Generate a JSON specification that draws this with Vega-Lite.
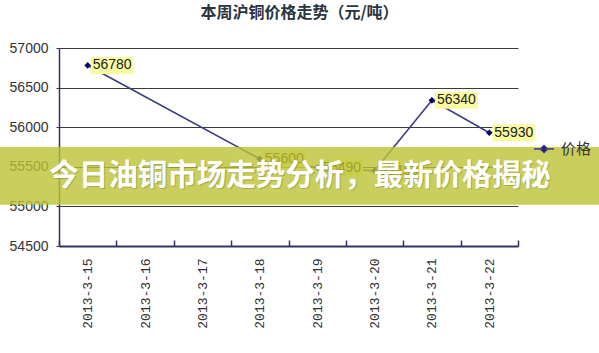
{
  "$schema": "https://vega.github.io/schema/vega-lite/v6.json",
  "width": 459,
  "height": 198,
  "autosize": {"type": "none"},
  "padding": {"left": 59, "top": 48, "right": 81, "bottom": 107},
  "background": "#ffffff",
  "config": {"view": {"stroke": null}},
  "title": {
    "text": "本周沪铜价格走势（元/吨）",
    "font": "Noto Sans CJK SC",
    "fontSize": 16,
    "fontWeight": "bold",
    "color": "#2a3440",
    "anchor": "middle",
    "frame": "group",
    "dx": 11,
    "offset": 20
  },
  "datasets": {
    "prices": [
      {"date": "2013-3-15", "price": 56780},
      {"date": "2013-3-18", "price": 55600},
      {"date": "2013-3-19", "price": 55490},
      {"date": "2013-3-20", "price": 55450},
      {"date": "2013-3-21", "price": 56340},
      {"date": "2013-3-22", "price": 55930}
    ],
    "banner": [{"text": "今日油铜市场走势分析，最新价格揭秘"}]
  },
  "layer": [
    {
      "data": {"name": "prices"},
      "encoding": {
        "x": {
          "field": "date",
          "type": "ordinal",
          "sort": null,
          "scale": {
            "type": "band",
            "domain": ["2013-3-15", "2013-3-16", "2013-3-17", "2013-3-18", "2013-3-19", "2013-3-20", "2013-3-21", "2013-3-22"],
            "paddingInner": 0,
            "paddingOuter": 0
          },
          "axis": {
            "title": null,
            "labelAngle": -90,
            "labelAlign": "right",
            "labelBaseline": "middle",
            "labelFont": "Liberation Mono",
            "labelFontSize": 13,
            "labelColor": "#333333",
            "labelPadding": 18,
            "labelOverlap": false,
            "domainColor": "#333366",
            "domainWidth": 2,
            "tickBand": "extent",
            "tickSize": -6,
            "tickColor": "#333366",
            "tickWidth": 1.5,
            "grid": false
          }
        },
        "y": {
          "field": "price",
          "type": "quantitative",
          "scale": {"domain": [54500, 57000], "zero": false, "nice": false},
          "axis": {
            "title": null,
            "values": [54500, 55000, 55500, 56000, 56500, 57000],
            "tickCount": 12,
            "format": "d",
            "labelOverlap": false,
            "grid": true,
            "gridColor": "#3a3a3a",
            "gridWidth": 1,
            "domainColor": "#333366",
            "domainWidth": 1.5,
            "ticks": true,
            "tickColor": "#333366",
            "tickSize": 3,
            "labelFont": "Liberation Sans",
            "labelFontSize": 14,
            "labelColor": "#333333",
            "labelPadding": 8
          }
        }
      },
      "layer": [
        {
          "mark": {"type": "line", "color": "#3b3b86", "strokeWidth": 1.6},
          "encoding": {
            "color": {
              "datum": "价格",
              "scale": {"range": ["#3b3b86"]},
              "legend": {
                "orient": "none",
                "legendX": 474,
                "legendY": 90,
                "title": null,
                "padding": 0,
                "symbolType": "M-1,0H1M-0.35,0L0,-0.35L0.35,0L0,0.35Z",
                "symbolSize": 400,
                "symbolStrokeWidth": 1.5,
                "symbolFillColor": "#000066",
                "labelFont": "Noto Sans CJK SC",
                "labelFontSize": 15,
                "labelColor": "#333333",
                "labelOffset": 6
              }
            }
          }
        },
        {
          "mark": {"type": "point", "shape": "M0.35,-1H5.4V1H0.35Z", "size": 289, "filled": true, "color": "#fafaa0", "opacity": 1, "strokeWidth": 0}
        },
        {
          "mark": {"type": "point", "shape": "diamond", "size": 45, "filled": true, "color": "#000066", "opacity": 1}
        },
        {
          "mark": {"type": "text", "align": "left", "baseline": "middle", "dx": 5, "font": "Liberation Sans", "fontSize": 14, "color": "#222222"},
          "encoding": {"text": {"field": "price", "type": "quantitative", "format": "d"}}
        }
      ]
    },
    {
      "data": {"name": "banner"},
      "mark": {"type": "rect", "color": "#bcc234", "opacity": 0.8},
      "encoding": {
        "x": {"datum": -0.1285, "type": "quantitative", "scale": {"domain": [0, 1], "nice": false, "zero": false}, "axis": null},
        "x2": {"datum": 1.1765},
        "y": {"datum": 55750, "type": "quantitative"},
        "y2": {"datum": 55020}
      }
    },
    {
      "data": {"name": "banner"},
      "mark": {"type": "text", "font": "Noto Sans CJK SC", "fontSize": 29.5, "fontWeight": "bold", "color": "#7d8230", "opacity": 0.45, "align": "center", "baseline": "middle", "dx": 1, "dy": 1.5},
      "encoding": {
        "x": {"datum": 0.525, "type": "quantitative", "scale": {"domain": [0, 1], "nice": false, "zero": false}, "axis": null},
        "y": {"datum": 55385, "type": "quantitative"},
        "text": {"field": "text"}
      }
    },
    {
      "data": {"name": "banner"},
      "mark": {"type": "text", "font": "Noto Sans CJK SC", "fontSize": 29.5, "fontWeight": "bold", "color": "#ffffff", "align": "center", "baseline": "middle"},
      "encoding": {
        "x": {"datum": 0.525, "type": "quantitative", "scale": {"domain": [0, 1], "nice": false, "zero": false}, "axis": null},
        "y": {"datum": 55385, "type": "quantitative"},
        "text": {"field": "text"}
      }
    }
  ],
  "resolve": {"scale": {"x": "independent"}, "axis": {"x": "independent"}}
}
